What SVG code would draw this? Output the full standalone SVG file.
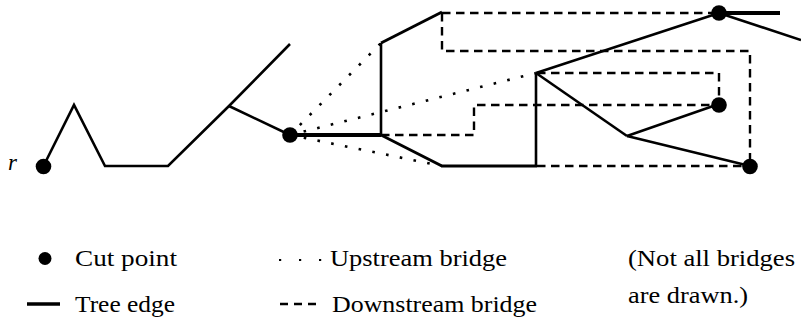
<svg xmlns="http://www.w3.org/2000/svg" width="801" height="320" viewBox="0 0 801 320">
<style>
.tree{fill:none;stroke:#000;stroke-width:2.6;stroke-linejoin:miter;stroke-linecap:butt}
.thick{fill:none;stroke:#000;stroke-width:4}
.down{fill:none;stroke:#000;stroke-width:2.4;stroke-dasharray:8.5 5.5}
.up{fill:none;stroke:#000;stroke-width:2.6;stroke-dasharray:2.6 11.4}
.cut{fill:#000}
.lbl{font-family:'Liberation Serif','DejaVu Serif','Noto Serif','Times New Roman',Tinos,FreeSerif,serif;font-size:23px;fill:#000}
</style>
<rect width="801" height="320" fill="#fff"/>
<g id="connectors">
  <polyline class="tree" points="43.5,166 74,105 105,166 168,166 229,106 290,44"/>
  <line class="tree" x1="229" y1="106" x2="290" y2="135"/>
  <line class="thick" x1="290" y1="135" x2="381" y2="135"/>
  <polyline class="tree" points="381,135 381,43"/>
  <line class="tree" x1="381" y1="43" x2="442" y2="12" style="stroke-width:3"/>
  <polyline class="tree" points="381,135 442,166 537,166" style="stroke-width:2.8"/>
  <line class="tree" x1="536" y1="166" x2="536" y2="73"/>
  <line class="tree" x1="536" y1="73" x2="719" y2="13"/>
  <line class="thick" x1="719" y1="13" x2="780" y2="13"/>
  <line class="tree" x1="719" y1="13" x2="801" y2="40"/>
  <line class="tree" x1="536" y1="73" x2="627" y2="136"/>
  <line class="tree" x1="627" y1="136" x2="719" y2="104"/>
  <line class="tree" x1="627" y1="136" x2="750" y2="166"/>
  <polyline class="down" points="442,13 719,13"/>
  <polyline class="down" points="442,13 442,51 750,51 750,166"/>
  <polyline class="down" points="537,73 719,73 719,104"/>
  <polyline class="down" points="381,135 474,135 474,105 719,105"/>
  <polyline class="down" points="537,166 750,166"/>
  <line class="up" x1="290" y1="135" x2="381" y2="43"/>
  <line class="up" x1="290" y1="135" x2="536" y2="73"/>
  <line class="up" x1="290" y1="135" x2="442" y2="166"/>
</g>
<g id="node-r"><circle class="cut" cx="43.5" cy="166.5" r="7.8"/><text class="lbl" x="8" y="170" font-style="italic">r</text></g>
<g id="node-c1"><circle class="cut" cx="290" cy="135" r="7.8"/></g>
<g id="node-c2"><circle class="cut" cx="719" cy="13" r="7.8"/></g>
<g id="node-c3"><circle class="cut" cx="719" cy="105" r="7.8"/></g>
<g id="node-c4"><circle class="cut" cx="750" cy="166.5" r="7.8"/></g>
<g id="legend">
  <circle class="cut" cx="45" cy="258.5" r="6.5"/>
  <text class="lbl" x="75" y="266" textLength="102" lengthAdjust="spacingAndGlyphs">Cut point</text>
  <line x1="27" y1="304" x2="60" y2="304" style="stroke:#000;stroke-width:3.5"/>
  <text class="lbl" x="75" y="312" textLength="100" lengthAdjust="spacingAndGlyphs">Tree edge</text>
  <line x1="279" y1="260" x2="322" y2="260" style="stroke:#000;stroke-width:2.2;stroke-dasharray:2.2 17.8"/>
  <text class="lbl" x="330" y="266" textLength="177" lengthAdjust="spacingAndGlyphs">Upstream bridge</text>
  <line x1="280" y1="304" x2="316" y2="304" style="stroke:#000;stroke-width:2.4;stroke-dasharray:8 6"/>
  <text class="lbl" x="332" y="312" textLength="205" lengthAdjust="spacingAndGlyphs">Downstream bridge</text>
  <text class="lbl" x="628" y="266" textLength="167" lengthAdjust="spacingAndGlyphs">(Not all bridges</text>
  <text class="lbl" x="628" y="303" textLength="120" lengthAdjust="spacingAndGlyphs">are drawn.)</text>
</g>
</svg>
